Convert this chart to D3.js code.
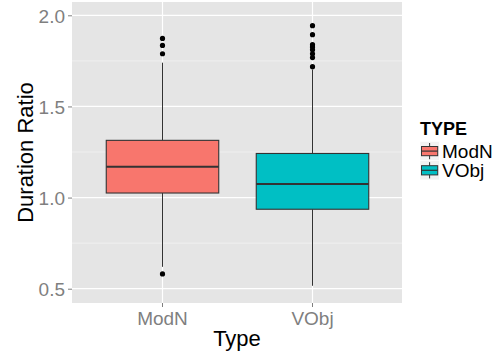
<!DOCTYPE html>
<html>
<head>
<meta charset="utf-8">
<script src="https://cdn.jsdelivr.net/npm/d3@7"></script>
<style>
  html, body { margin: 0; padding: 0; background: #ffffff; }
  svg { display: block; font-family: "Liberation Sans", Arial, Helvetica, sans-serif; }
</style>
</head>
<body>
<svg id="chart" width="495" height="358"></svg>
<script>
// Box-plot summaries of duration ratio per type
const categories = ["ModN", "VObj"];
const q1Values = [1.025, 0.936];
const medianValues = [1.169, 1.075];
const q3Values = [1.314, 1.242];
const whiskerLow = [0.620, 0.516];
const whiskerHigh = [1.740, 1.703];
const outliersModN = [0.581, 1.789, 1.835, 1.873];
const outliersVObj = [1.718, 1.768, 1.789, 1.811, 1.826, 1.839, 1.894, 1.943];
const outlierSets = [outliersModN, outliersVObj];
const fillColors = ["#F8766D", "#00BFC4"];
const yTicks = [0.5, 1.0, 1.5, 2.0];
const yMinorTicks = [0.75, 1.25, 1.75];
const yDomain = [0.4216, 2.073];

const svg = d3.select("#chart");
const panel = { left: 72, right: 402, top: 2, bottom: 303 };

// discrete x scale with 0.6 category units of expansion on each side
const x = d3.scalePoint()
  .domain(categories)
  .range([panel.left, panel.right])
  .padding(0.6);
const step = x.step();
const boxWidth = step * 0.75;
const xc = c => Math.round(x(c)) + 0.5;

const y = d3.scaleLinear().domain(yDomain).range([panel.bottom, panel.top]);

// panel background
svg.append("rect")
  .attr("x", panel.left).attr("y", panel.top)
  .attr("width", panel.right - panel.left)
  .attr("height", panel.bottom - panel.top)
  .attr("fill", "#E5E5E5");

// minor grid
svg.append("g").selectAll("line").data(yMinorTicks).join("line")
  .attr("x1", panel.left).attr("x2", panel.right)
  .attr("y1", d => y(d)).attr("y2", d => y(d))
  .attr("stroke", "#F2F2F2").attr("stroke-width", 0.8);

// major grid
svg.append("g").selectAll("line").data(yTicks).join("line")
  .attr("x1", panel.left).attr("x2", panel.right)
  .attr("y1", d => y(d)).attr("y2", d => y(d))
  .attr("stroke", "#FFFFFF").attr("stroke-width", 1.2);
svg.append("g").selectAll("line").data(categories).join("line")
  .attr("x1", d => xc(d)).attr("x2", d => xc(d))
  .attr("y1", panel.top).attr("y2", panel.bottom)
  .attr("stroke", "#FFFFFF").attr("stroke-width", 1.2);

// axes
const yAxis = d3.axisLeft(y).tickValues(yTicks).tickFormat(d3.format(".1f"))
  .tickSize(4).tickPadding(3);
const gy = svg.append("g").attr("transform", `translate(${panel.left},0)`).call(yAxis);
gy.select(".domain").remove();
gy.selectAll(".tick line").attr("stroke", "#7F7F7F");
gy.selectAll(".tick text").attr("fill", "#7F7F7F")
  .style("font-size", "19px").attr("dy", "0.36em");

const xAxis = d3.axisBottom(x).tickSize(4).tickPadding(3);
const gx = svg.append("g").attr("transform", `translate(0,${panel.bottom})`).call(xAxis);
gx.select(".domain").remove();
gx.selectAll(".tick line").attr("stroke", "#7F7F7F");
gx.selectAll(".tick text").attr("fill", "#7F7F7F")
  .style("font-size", "19px").attr("dy", "0.8em");

// axis titles
svg.append("text")
  .attr("x", (panel.left + panel.right) / 2).attr("y", 346)
  .attr("text-anchor", "middle").style("font-size", "22px").attr("fill", "#000")
  .text("Type");
svg.append("text")
  .attr("transform", `translate(33,${(panel.top + panel.bottom) / 2}) rotate(-90)`)
  .attr("text-anchor", "middle").style("font-size", "22px").attr("fill", "#000")
  .text("Duration Ratio");

// boxes, whiskers, medians and outliers
const boxes = svg.append("g");
categories.forEach((c, i) => {
  const cx = xc(c);
  const g = boxes.append("g");
  g.append("line")
    .attr("x1", cx).attr("x2", cx)
    .attr("y1", y(q3Values[i])).attr("y2", y(whiskerHigh[i]))
    .attr("stroke", "#333333").attr("stroke-width", 1);
  g.append("line")
    .attr("x1", cx).attr("x2", cx)
    .attr("y1", y(q1Values[i])).attr("y2", y(whiskerLow[i]))
    .attr("stroke", "#333333").attr("stroke-width", 1);
  g.append("rect")
    .attr("x", cx - boxWidth / 2).attr("width", boxWidth)
    .attr("y", y(q3Values[i])).attr("height", y(q1Values[i]) - y(q3Values[i]))
    .attr("fill", fillColors[i]).attr("stroke", "#333333").attr("stroke-width", 1.1);
  g.append("line")
    .attr("x1", cx - boxWidth / 2).attr("x2", cx + boxWidth / 2)
    .attr("y1", y(medianValues[i])).attr("y2", y(medianValues[i]))
    .attr("stroke", "#333333").attr("stroke-width", 2);
  g.selectAll("circle").data(outlierSets[i]).join("circle")
    .attr("cx", cx).attr("cy", d => y(d)).attr("r", 2.6)
    .attr("fill", "#000000");
});

// legend
const legend = svg.append("g");
legend.append("text")
  .attr("x", 420).attr("y", 135)
  .style("font-size", "18px").style("font-weight", "bold").attr("fill", "#000")
  .text("TYPE");
const keySize = 19.2;
categories.forEach((c, i) => {
  const ky = 141.5 + i * keySize;
  const k = legend.append("g").attr("transform", `translate(420,${ky})`);
  k.append("rect").attr("width", keySize).attr("height", keySize)
    .attr("fill", "#F2F2F2").attr("stroke", "#FFFFFF").attr("stroke-width", 0.5);
  const mx = keySize / 2;
  k.append("line").attr("x1", mx).attr("x2", mx).attr("y1", 1.5).attr("y2", keySize - 1.5)
    .attr("stroke", "#333333").attr("stroke-width", 1);
  k.append("rect").attr("x", 1.5).attr("y", 5).attr("width", keySize - 3).attr("height", keySize - 10)
    .attr("fill", fillColors[i]).attr("stroke", "#333333").attr("stroke-width", 1);
  k.append("line").attr("x1", 1.5).attr("x2", keySize - 1.5).attr("y1", mx).attr("y2", mx)
    .attr("stroke", "#333333").attr("stroke-width", 1.2);
  legend.append("text")
    .attr("x", 442).attr("y", ky + keySize / 2).attr("dy", "0.36em")
    .style("font-size", "19px").attr("fill", "#000")
    .text(c);
});
</script>
</body>
</html>
